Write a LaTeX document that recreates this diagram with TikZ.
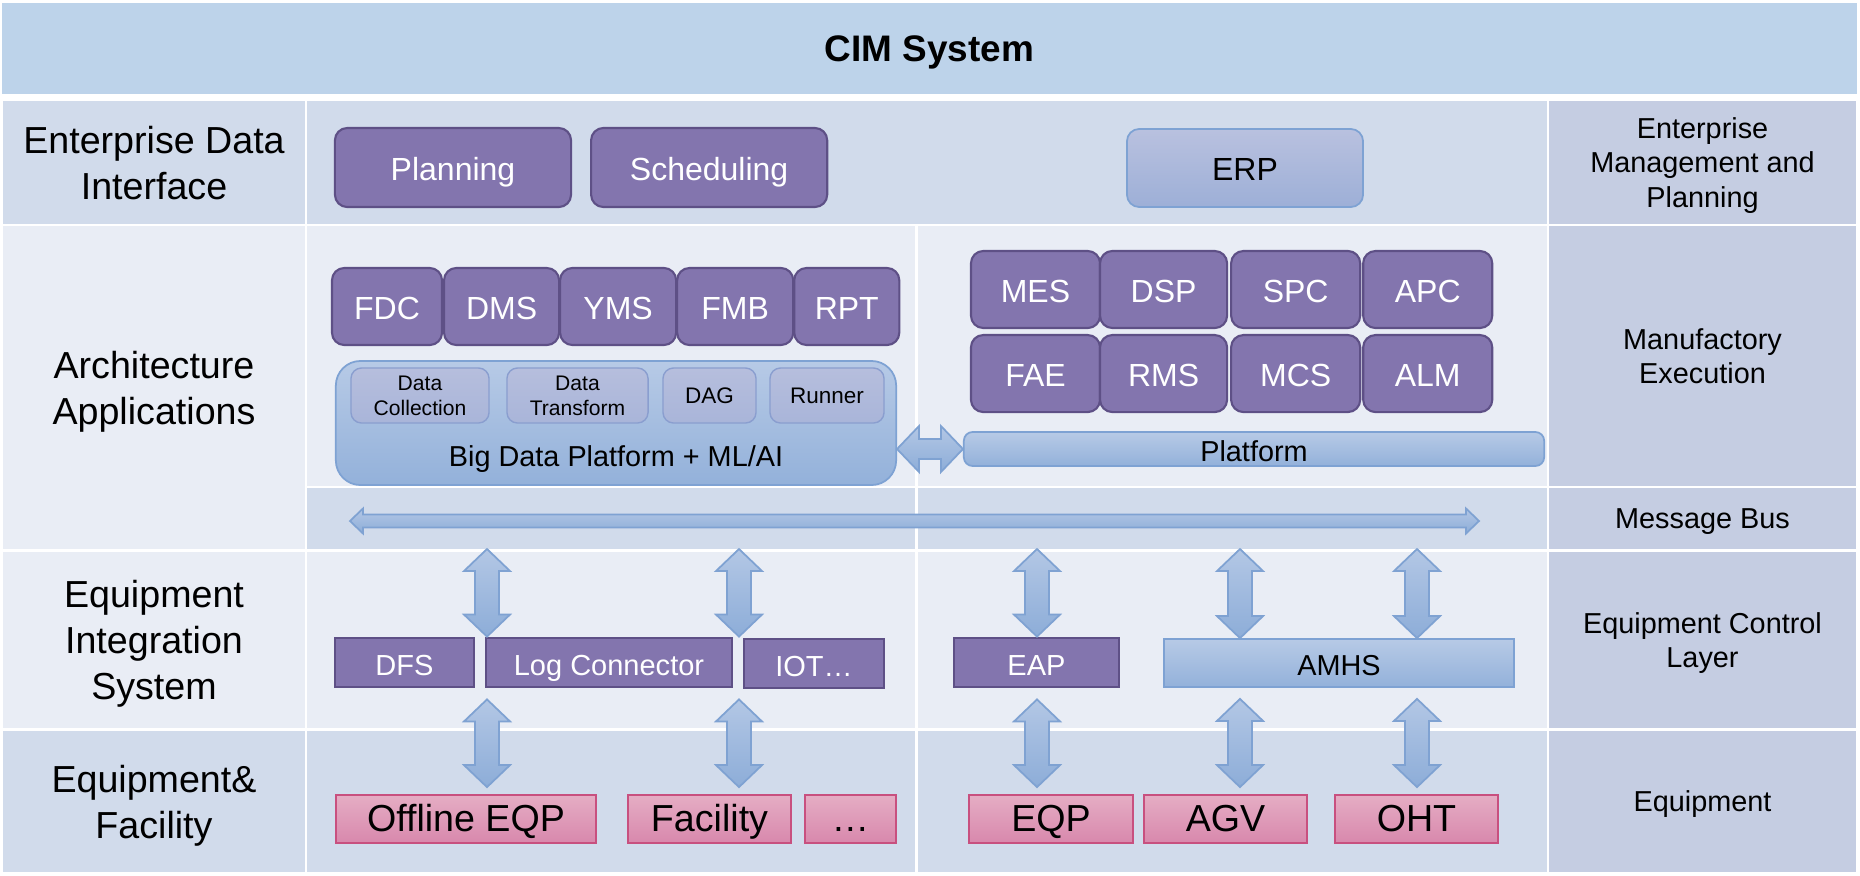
\documentclass[tikz,border=0pt]{standalone}
\usepackage{fontspec}
\setmainfont{Liberation Sans}
\usetikzlibrary{positioning,calc}

\definecolor{titleblue}{HTML}{BDD3EA}
\definecolor{darkcell}{HTML}{D1DBEB}
\definecolor{lightcell}{HTML}{E9EDF5}
\definecolor{sidecell}{HTML}{C5CDE2}
\definecolor{appfill}{HTML}{8375AE}
\definecolor{appline}{HTML}{5E5086}
\definecolor{pinktop}{HTML}{E5ADC4}
\definecolor{pinkbot}{HTML}{D888AC}
\definecolor{pinkline}{HTML}{C8507F}
\definecolor{bluetop}{HTML}{B7CAE6}
\definecolor{bluebot}{HTML}{93B1DA}
\definecolor{blueline}{HTML}{7EA2D3}
\definecolor{erptop}{HTML}{B9C1DF}
\definecolor{erpbot}{HTML}{9DAFD7}
\definecolor{tooltop}{HTML}{B6BEDD}
\definecolor{toolbot}{HTML}{A9B5D9}
\definecolor{toolline}{HTML}{8A9ECF}
\definecolor{arrowtop}{HTML}{B3C7E5}
\definecolor{arrowbot}{HTML}{8DADD8}
\definecolor{arrowline}{HTML}{7FA2D2}

% vertical double block arrow: x reference, upper end, lower end
\newcommand{\vdarrow}[3]{%
  \path[blockarrow] let \p0=(#1), \p1=(#2), \p2=(#3) in
    (\x0,\y1) -- (\x0+0.23cm,\y1-0.22cm) -- (\x0+0.12cm,\y1-0.22cm)
    -- (\x0+0.12cm,\y2+0.22cm) -- (\x0+0.23cm,\y2+0.22cm) -- (\x0,\y2)
    -- (\x0-0.23cm,\y2+0.22cm) -- (\x0-0.12cm,\y2+0.22cm)
    -- (\x0-0.12cm,\y1-0.22cm) -- (\x0-0.23cm,\y1-0.22cm) -- cycle;}
% horizontal double block arrow: left end, right end, head length, head half, shaft half
\newcommand{\hdarrow}[5]{%
  \path[blockarrow] let \p1=(#1), \p2=(#2) in
    (\x1,\y1) -- (\x1+#3,\y1+#4) -- (\x1+#3,\y1+#5) -- (\x2-#3,\y1+#5)
    -- (\x2-#3,\y1+#4) -- (\x2,\y1) -- (\x2-#3,\y1-#4) -- (\x2-#3,\y1-#5)
    -- (\x1+#3,\y1-#5) -- (\x1+#3,\y1-#4) -- cycle;}

\begin{document}
\begin{tikzpicture}[x=0.01cm, y=-0.01cm,
    cell/.style={inner sep=0pt, outer sep=0pt, align=center, text=black, text depth=0pt},
    oneline/.style={text height=0.72em, text depth=0pt},
    rowlabel/.style={cell, minimum width=3.02cm, font=\fontsize{10.7}{13}\selectfont},
    sidelabel/.style={cell, fill=sidecell, minimum width=3.07cm, font=\fontsize{8.2}{9.9}\selectfont},
    app/.style={oneline, draw=appline, fill=appfill, text=white, rounded corners=3.5pt, line width=0.6pt,
      minimum height=0.77cm, inner sep=0pt, outer sep=0pt, font=\fontsize{9.1}{11}\selectfont},
    eis/.style={oneline, draw=appline, fill=appfill, text=white, line width=0.8pt, minimum height=0.49cm,
      inner sep=0pt, font=\fontsize{8.25}{10}\selectfont},
    eqp/.style={oneline, draw=pinkline, top color=pinktop, bottom color=pinkbot, line width=0.5pt,
      minimum height=0.48cm, inner sep=0pt, font=\fontsize{10.7}{12}\selectfont},
    platbox/.style={oneline, draw=blueline, top color=bluetop, bottom color=bluebot, line width=0.5pt,
      inner sep=0pt, font=\fontsize{8.2}{10}\selectfont},
    toolbox/.style={draw=toolline, top color=tooltop, bottom color=toolbot, rounded corners=3pt,
      line width=0.4pt, minimum height=0.55cm, inner sep=0pt, align=center, text depth=0pt,
      font=\fontsize{6}{7.1}\selectfont},
    blockarrow/.style={draw=arrowline, top color=arrowtop, bottom color=arrowbot,
      line width=0.5pt, line join=miter},
  ]
  \fill[white] (0,0) rectangle (1860,875);
  \useasboundingbox (0,0) rectangle (1860,875);

  % title
  \node[cell, oneline, fill=titleblue, minimum width=18.53cm, minimum height=0.91cm,
    font=\bfseries\fontsize{10.5}{13}\selectfont] (title) at (929.5,48.5) {CIM System};

  % left labels
  \node[rowlabel, fill=darkcell, minimum height=1.23cm] (lab1) at (154,162.5) {Enterprise Data\\Interface};
  \node[rowlabel, fill=lightcell, minimum height=3.23cm] (lab2) at (154,387.5) {Architecture\\Applications};
  \node[rowlabel, fill=lightcell, minimum height=1.76cm] (lab3) at (154,640) {Equipment\\Integration\\System};
  \node[rowlabel, fill=darkcell, minimum height=1.41cm] (lab4) at (154,801.5) {Equipment\&\\Facility};

  % middle cells
  \node[cell, fill=darkcell, minimum width=12.40cm, minimum height=1.23cm] (mid1) at (927,162.5) {};
  \node[cell, fill=lightcell, minimum width=6.08cm, minimum height=2.60cm] (mid2l) at (611,356) {};
  \node[cell, fill=lightcell, minimum width=6.29cm, minimum height=2.60cm] (mid2r) at (1232.5,356) {};
  \node[cell, fill=darkcell, minimum width=6.08cm, minimum height=0.61cm] (busl) at (611,518.5) {};
  \node[cell, fill=darkcell, minimum width=6.29cm, minimum height=0.61cm] (busr) at (1232.5,518.5) {};
  \node[cell, fill=lightcell, minimum width=6.08cm, minimum height=1.76cm] (mid3l) at (611,640) {};
  \node[cell, fill=lightcell, minimum width=6.29cm, minimum height=1.76cm] (mid3r) at (1232.5,640) {};
  \node[cell, fill=darkcell, minimum width=6.08cm, minimum height=1.41cm] (mid4l) at (611,801.5) {};
  \node[cell, fill=darkcell, minimum width=6.29cm, minimum height=1.41cm] (mid4r) at (1232.5,801.5) {};

  % right labels
  \node[sidelabel, minimum height=1.23cm] (side1) at (1702.5,162.5) {Enterprise\\Management and\\Planning};
  \node[sidelabel, minimum height=2.60cm] (side2) at (1702.5,356) {Manufactory\\Execution};
  \node[sidelabel, minimum height=0.61cm] (side3) at (1702.5,518.5) {Message Bus};
  \node[sidelabel, minimum height=1.76cm] (side4) at (1702.5,640) {Equipment Control\\Layer};
  \node[sidelabel, minimum height=1.41cm] (side5) at (1702.5,801.5) {Equipment};

  % enterprise row
  \node[app, minimum width=2.36cm, minimum height=0.79cm] (planning) at (453,167.5) {Planning};
  \node[app, minimum width=2.36cm, minimum height=0.79cm, right=0.20cm of planning] (scheduling) {Scheduling};
  \node[app, draw=blueline, top color=erptop, bottom color=erpbot, text=black,
    minimum width=2.36cm, minimum height=0.78cm, line width=0.5pt] (erp) at (1245,168) {ERP};

  % analysis applications
  \node[app, minimum width=1.10cm] (fdc) at (387,306.5) {FDC};
  \node[app, minimum width=1.15cm, right=0.02cm of fdc] (dms) {DMS};
  \node[app, minimum width=1.16cm, right=0.01cm of dms] (yms) {YMS};
  \node[app, minimum width=1.16cm, right=0.01cm of yms] (fmb) {FMB};
  \node[app, minimum width=1.05cm, right=0.01cm of fmb] (rpt) {RPT};

  \node[platbox, rounded corners=7pt, minimum width=5.60cm, minimum height=1.24cm] (bigdata) at (616,423) {};
  \node[oneline, inner sep=0pt, font=\fontsize{8.2}{10}\selectfont] (bdlabel) at (616,454) {Big Data Platform + ML/AI};
  \node[toolbox, minimum width=1.38cm] (collect) at (420,395.5) {Data\\Collection};
  \node[toolbox, minimum width=1.41cm] (transform) at (577.5,395.5) {Data\\Transform};
  \node[toolbox, minimum width=0.93cm, font=\fontsize{6.4}{8}\selectfont] (dag) at (709.5,395.5) {DAG};
  \node[toolbox, minimum width=1.14cm, font=\fontsize{6.4}{8}\selectfont] (runner) at (827,395.5) {Runner};

  % manufacturing execution
  \node[app, minimum width=1.29cm] (mes) at (1035.5,289.5) {MES};
  \node[app, minimum width=1.27cm, right=0cm of mes] (dsp) {DSP};
  \node[app, minimum width=1.29cm, right=0.04cm of dsp] (spc) {SPC};
  \node[app, minimum width=1.29cm, right=0.03cm of spc] (apc) {APC};
  \node[app, minimum width=1.29cm, below=0.07cm of mes] (fae) {FAE};
  \node[app, minimum width=1.27cm, right=0cm of fae] (rms) {RMS};
  \node[app, minimum width=1.29cm, right=0.04cm of rms] (mcs) {MCS};
  \node[app, minimum width=1.29cm, right=0.03cm of mcs] (alm) {ALM};
  \node[platbox, rounded corners=2.5pt, minimum width=5.80cm, minimum height=0.34cm] (platform) at (1254,449) {Platform};

  % equipment integration
  \node[eis, minimum width=1.39cm] (dfs) at (404.5,662.5) {DFS};
  \node[eis, minimum width=2.46cm] (log) at (609,662.5) {Log Connector};
  \node[eis, minimum width=1.40cm] (iot) at (814,663.5) {IOT…};
  \node[eis, minimum width=1.65cm] (eap) at (1036.5,662.5) {EAP};
  \node[platbox, minimum width=3.50cm, minimum height=0.48cm] (amhs) at (1339,663) {AMHS};

  % equipment
  \node[eqp, minimum width=2.60cm] (offline) at (466,819) {Offline EQP};
  \node[eqp, minimum width=1.63cm] (facility) at (709.5,819) {Facility};
  \node[eqp, minimum width=0.91cm] (more) at (850.5,819) {…};
  \node[eqp, minimum width=1.64cm] (eqp) at (1051,819) {EQP};
  \node[eqp, minimum width=1.63cm] (agv) at (1225.5,819) {AGV};
  \node[eqp, minimum width=1.63cm] (oht) at (1416.5,819) {OHT};

  % block arrows
  \coordinate (busW) at (350,521);
  \coordinate (busE) at (1479,521);
  \coordinate (col1) at (487,0);
  \coordinate (col2) at (739,0);
  \coordinate (col3) at (1037,0);
  \coordinate (col4) at (1240,0);
  \coordinate (col5) at (1417,0);

  \hdarrow{busW}{busE}{0.13cm}{0.125cm}{0.065cm}
  \hdarrow{bigdata.east |- platform.west}{platform.west}{0.22cm}{0.23cm}{0.10cm}

  \vdarrow{col1}{busl.south}{log.north}
  \vdarrow{col2}{busl.south}{log.north}
  \vdarrow{col3}{busr.south}{eap.north}
  \vdarrow{col4}{busr.south}{amhs.north}
  \vdarrow{col5}{busr.south}{amhs.north}

  \vdarrow{col1}{$(log.south)+(0,11)$}{$(offline.north)+(0,-7)$}
  \vdarrow{col2}{$(log.south)+(0,11)$}{$(facility.north)+(0,-7)$}
  \vdarrow{col3}{$(eap.south)+(0,11)$}{$(eqp.north)+(0,-7)$}
  \vdarrow{col4}{$(amhs.south)+(0,11)$}{$(agv.north)+(0,-7)$}
  \vdarrow{col5}{$(amhs.south)+(0,11)$}{$(oht.north)+(0,-7)$}
\end{tikzpicture}
\end{document}
